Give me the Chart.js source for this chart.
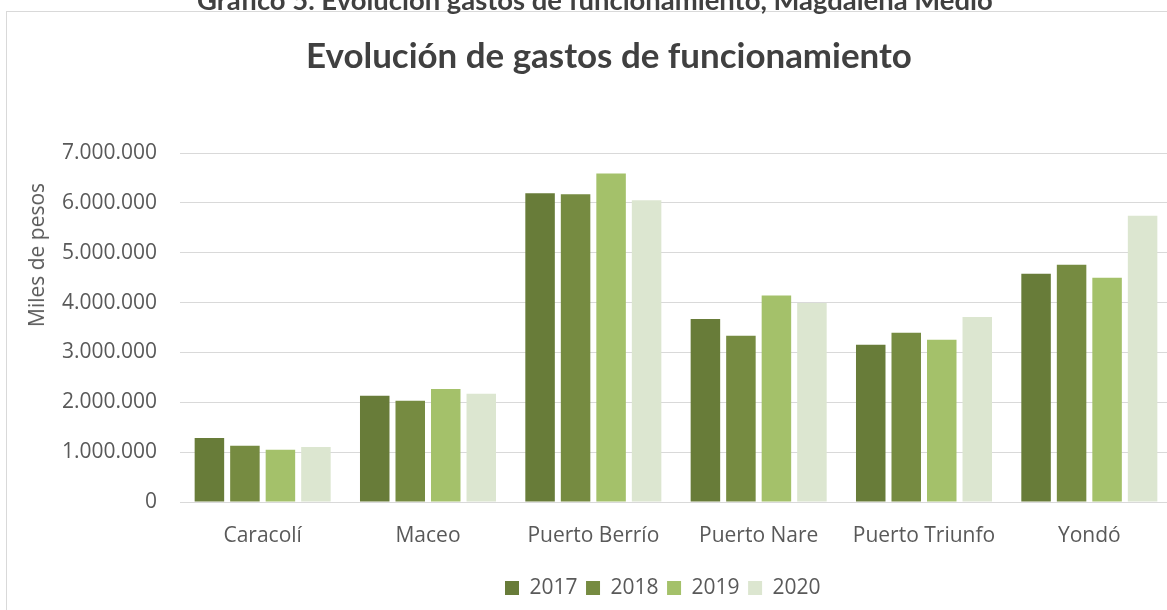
<!DOCTYPE html>
<html>
<head>
<meta charset="utf-8">
<script src="https://cdn.jsdelivr.net/npm/chart.js@4.4.0/dist/chart.umd.min.js"></script>
<style>
html,body{margin:0;padding:0;background:#fff;overflow:hidden;width:1167px;height:610px;position:relative;}
#frame{position:absolute;left:6px;top:11px;width:1400px;height:800px;border:1.5px solid #d9d9d9;box-sizing:border-box;}
#caption{position:absolute;left:197px;top:0;white-space:nowrap;font-family:Lato,sans-serif;font-weight:bold;color:#404040;line-height:1;z-index:3;}
#ytitle{position:absolute;left:36px;top:255px;white-space:nowrap;font-family:"Open Sans",sans-serif;font-size:21px;color:#595959;transform:translate(-50%,-50%) rotate(-90deg);z-index:3;}
#wrap{position:absolute;left:0;top:0;width:1180px;height:610px;z-index:2;}
</style>
</head>
<body>
<div id="frame"></div>
<div id="caption">Gráfico 5. Evolución gastos de funcionamiento, Magdalena Medio</div>
<div id="wrap"><canvas id="c" width="1180" height="610"></canvas></div>
<div id="ytitle">Miles de pesos</div>
<script>
// ---- data ----
const categories = ['Caracolí', 'Maceo', 'Puerto Berrío', 'Puerto Nare', 'Puerto Triunfo', 'Yondó'];
const seriesNames = ['2017', '2018', '2019', '2020'];
const values2017 = [1285000, 2130000, 6195000, 3670000, 3155000, 4580000];
const values2018 = [1130000, 2030000, 6175000, 3335000, 3395000, 4760000];
const values2019 = [1050000, 2265000, 6590000, 4140000, 3255000, 4500000];
const values2020 = [1105000, 2170000, 6050000, 3990000, 3710000, 5740000];
const yMin = 0;
const yMax = 7000000;
const yStep = 1000000;
const chartTitle = 'Evolución de gastos de funcionamiento';

// ---- styling ----
const colors = ['#687C39', '#768B41', '#A4C16A', '#DCE6D0'];
const seriesValues = [values2017, values2018, values2019, values2020];

// fit caption width
const cap = document.getElementById('caption');
(function(){
  const m = document.createElement('canvas').getContext('2d');
  m.font = 'bold 100px Lato';
  const w = m.measureText(cap.textContent).width;
  const size = 100 * 796 / w;
  cap.style.fontSize = size + 'px';
  cap.style.top = (10 - 0.887 * size) + 'px';
})();

const mctx = document.createElement('canvas').getContext('2d');
mctx.font = 'bold 100px Lato';
const titleSize = 100 * 606 / mctx.measureText(chartTitle).width;
const titleCenterY = 57;
const plotTop = 153;

const fmt = v => String(v).replace(/\B(?=(\d{3})+(?!\d))/g, '.');

const shiftPlugin = {
  id: 'shiftBoxes',
  afterLayout(chart) {
    const t = chart.titleBlock;
    if (t) {
      const dx = 609 - (t.left + t.right) / 2;
      t.left += dx; t.right += dx;
    }
    const l = chart.legend;
    if (l && l.lineWidths) {
      const pad = l.options.labels.padding;
      const cur = (l.left + pad + l.right - l.lineWidths[0]) / 2;
      const dx = 505 - cur;
      l.left += dx; l.right += dx;
    }
  }
};

new Chart(document.getElementById('c'), {
  type: 'bar',
  data: {
    labels: categories,
    datasets: seriesNames.map((n, i) => ({
      label: n,
      data: seriesValues[i],
      backgroundColor: colors[i],
      borderWidth: 0,
      categoryPercentage: 0.859,
      barPercentage: 0.831
    }))
  },
  options: {
    responsive: false,
    devicePixelRatio: 1,
    animation: false,
    layout: { padding: { left: 0, right: 8, top: 0, bottom: 1.5 } },
    plugins: {
      tooltip: { enabled: false },
      title: {
        display: true,
        text: chartTitle,
        color: '#404040',
        font: { family: 'Lato', weight: 'bold', size: titleSize, lineHeight: 1.2 },
        padding: { top: titleCenterY - titleSize * 0.6, bottom: plotTop - (titleCenterY + titleSize * 0.6) }
      },
      legend: {
        position: 'bottom',
        labels: {
          boxWidth: 14,
          boxHeight: 14,
          padding: 8.5,
          color: '#595959',
          font: { family: 'Open Sans', size: 21 }
        }
      }
    },
    scales: {
      x: {
        grid: { display: false, drawTicks: false },
        border: { display: true, color: '#d9d9d9', width: 1 },
        ticks: { color: '#595959', font: { family: 'Open Sans', size: 21 }, padding: 21, maxRotation: 0, autoSkip: false },
        afterFit: s => { s.height = 67; }
      },
      y: {
        min: yMin,
        max: yMax,
        grid: { color: '#d9d9d9', lineWidth: 1, drawTicks: false },
        border: { display: false },
        ticks: { stepSize: yStep, color: '#595959', font: { family: 'Open Sans', size: 21 }, padding: 23, callback: v => fmt(v) },
        afterFit: s => { s.width = 180; }
      }
    }
  },
  plugins: [shiftPlugin]
});
</script>
</body>
</html>
